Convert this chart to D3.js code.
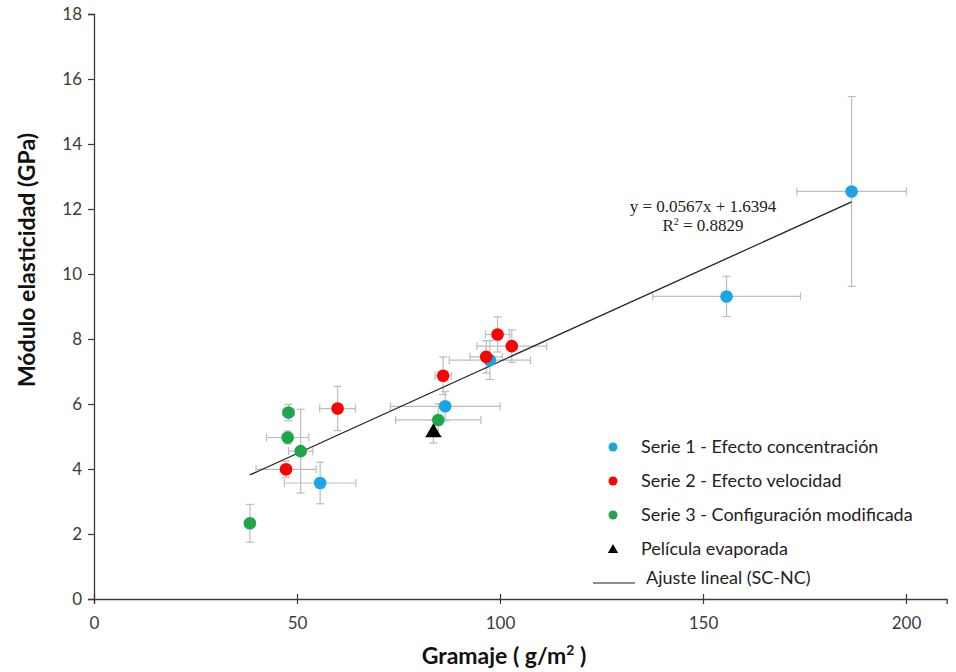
<!DOCTYPE html>
<html>
<head>
<meta charset="utf-8">
<script src="https://cdn.jsdelivr.net/npm/d3@7"></script>
<style>
  html, body { margin: 0; padding: 0; background: #fff; }
  svg { display: block; }
</style>
</head>
<body>
<svg id="chart" width="956" height="672"></svg>
<script>
// ---- Data ----
const serie1 = [ // Efecto concentración
  {x: 186.6, y: 12.54, ex: 13.5, ey: 2.92},
  {x: 155.8, y: 9.31,  ex: 18.2, ey: 0.62},
  {x: 86.5,  y: 5.93,  ex: 13.5, ey: 0.45},
  {x: 55.7,  y: 3.57,  ex: 8.8,  ey: 0.64},
  {x: 97.5,  y: 7.35,  ex: 10.0, ey: 0.60}
];
const serie2 = [ // Efecto velocidad
  {x: 99.4,  y: 8.14, ex: 3.0, ey: 0.54},
  {x: 102.9, y: 7.78, ex: 8.6, ey: 0.50},
  {x: 96.6,  y: 7.45, ex: 4.0, ey: 0.50},
  {x: 86.0,  y: 6.87, ex: 2.0, ey: 0.58},
  {x: 60.0,  y: 5.86, ex: 4.4, ey: 0.68},
  {x: 47.3,  y: 3.99, ex: 7.4, ey: 0.25}
];
const serie3 = [ // Configuración modificada
  {x: 47.9, y: 5.74, ex: 1.4,  ey: 0.25},
  {x: 47.7, y: 4.97, ex: 5.2,  ey: 0.20},
  {x: 50.9, y: 4.55, ex: 3.0,  ey: 1.29},
  {x: 38.4, y: 2.33, ex: 0,    ey: 0.58},
  {x: 84.8, y: 5.51, ex: 10.5, ey: 0.50}
];
const pelicula = [
  {x: 83.6, y: 5.15, ex: 0, ey: 0.35}
];
const fitSlope = 0.0567, fitIntercept = 1.6394, fitR2 = 0.8829;
const fitRange = [38.4, 186.6];
const xTicks = [0, 50, 100, 150, 200];
const yTicks = [0, 2, 4, 6, 8, 10, 12, 14, 16, 18];
const legendLabels = [
  "Serie 1 - Efecto concentración",
  "Serie 2 - Efecto velocidad",
  "Serie 3 - Configuración modificada",
  "Película evaporada",
  "Ajuste lineal (SC-NC)"
];
const colors = {s1: "#1aa6e6", s2: "#ff0000", s3: "#1fa64a", film: "#000000"};

// ---- Layout ----
const svg = d3.select("#chart");
const x = d3.scaleLinear().domain([0, 210]).range([94, 946.6]);
const y = d3.scaleLinear().domain([0, 18]).range([599, 14]);
const font = "Lato, 'Open Sans', sans-serif";
const axisColor = "#3a3a3a";

// Axes
const yAxis = svg.append("g").attr("transform", `translate(${x(0)},0)`)
  .call(d3.axisLeft(y).tickValues(yTicks).tickSize(6).tickPadding(6).tickFormat(d3.format("d")));
const xAxis = svg.append("g").attr("transform", `translate(0,${y(0)})`)
  .call(d3.axisBottom(x).tickValues(xTicks).tickSize(5).tickPadding(10).tickFormat(d3.format("d")));
[yAxis, xAxis].forEach(g => {
  g.select(".domain").attr("stroke", axisColor).attr("stroke-width", 1.3);
  g.selectAll(".tick line").attr("stroke", axisColor).attr("stroke-width", 1.2);
  g.selectAll(".tick text").attr("font-family", font).attr("font-size", 17).attr("fill", "#3c3c3c");
});
xAxis.selectAll(".tick line").attr("y1", -5);
xAxis.selectAll(".tick text").attr("dy", "0.9em");

// Axis titles
svg.append("text")
  .attr("transform", `translate(35,260) rotate(-90)`)
  .attr("text-anchor", "middle")
  .attr("font-family", font).attr("font-weight", "bold").attr("font-size", 23)
  .attr("fill", "#111").text("Módulo elasticidad (GPa)");
const xt = svg.append("text")
  .attr("x", 504).attr("y", 664)
  .attr("text-anchor", "middle")
  .attr("font-family", font).attr("font-weight", "bold").attr("font-size", 23)
  .attr("fill", "#111");
xt.append("tspan").text("Gramaje ( g/m");
xt.append("tspan").attr("font-size", 14).attr("dy", -9).text("2");
xt.append("tspan").attr("dy", 9).text(" )");

// Error bars
const allSeries = [serie1, serie3, pelicula, serie2];
const eb = svg.append("g").attr("stroke", "#bdbdbd").attr("stroke-width", 1.2).attr("fill", "none");
const cap = 4;
allSeries.flat().forEach(d => {
  if (d.ex > 0) {
    eb.append("line").attr("x1", x(d.x - d.ex)).attr("x2", x(d.x + d.ex)).attr("y1", y(d.y)).attr("y2", y(d.y));
    eb.append("line").attr("x1", x(d.x - d.ex)).attr("x2", x(d.x - d.ex)).attr("y1", y(d.y) - cap).attr("y2", y(d.y) + cap);
    eb.append("line").attr("x1", x(d.x + d.ex)).attr("x2", x(d.x + d.ex)).attr("y1", y(d.y) - cap).attr("y2", y(d.y) + cap);
  }
  if (d.ey > 0) {
    eb.append("line").attr("x1", x(d.x)).attr("x2", x(d.x)).attr("y1", y(d.y - d.ey)).attr("y2", y(d.y + d.ey));
    eb.append("line").attr("x1", x(d.x) - cap).attr("x2", x(d.x) + cap).attr("y1", y(d.y - d.ey)).attr("y2", y(d.y - d.ey));
    eb.append("line").attr("x1", x(d.x) - cap).attr("x2", x(d.x) + cap).attr("y1", y(d.y + d.ey)).attr("y2", y(d.y + d.ey));
  }
});

// Trend line
svg.append("line")
  .attr("x1", x(fitRange[0])).attr("y1", y(fitSlope * fitRange[0] + fitIntercept))
  .attr("x2", x(fitRange[1])).attr("y2", y(fitSlope * fitRange[1] + fitIntercept))
  .attr("stroke", "#222").attr("stroke-width", 1.3);

// Points
const r = 6.3;
[[serie1, colors.s1], [serie3, colors.s3], [serie2, colors.s2]].forEach(([data, c]) => {
  svg.append("g").selectAll("circle").data(data).join("circle")
    .attr("cx", d => x(d.x)).attr("cy", d => y(d.y)).attr("r", r).attr("fill", c);
});
svg.append("g").selectAll("path").data(pelicula).join("path")
  .attr("transform", d => `translate(${x(d.x)},${y(d.y) + 1})`)
  .attr("d", d3.symbol(d3.symbolTriangle, 115)())
  .attr("fill", colors.film);

// Equation
const eqFont = "'Liberation Serif', 'Times New Roman', serif";
svg.append("text").attr("x", 703).attr("y", 212).attr("text-anchor", "middle")
  .attr("font-family", eqFont).attr("font-size", 17).attr("fill", "#222")
  .text(`y = ${fitSlope}x + ${fitIntercept}`);
const r2 = svg.append("text").attr("x", 703).attr("y", 231).attr("text-anchor", "middle")
  .attr("font-family", eqFont).attr("font-size", 17).attr("fill", "#222");
r2.append("tspan").text("R");
r2.append("tspan").attr("font-size", 10).attr("dy", -6).text("2");
r2.append("tspan").attr("dy", 6).text(` = ${fitR2}`);

// Legend
const leg = svg.append("g");
const legY = [447, 481, 515, 549, 578];
const legColors = [colors.s1, colors.s2, colors.s3];
legendLabels.forEach((t, i) => {
  const yy = legY[i];
  if (i < 3) {
    leg.append("circle").attr("cx", 613).attr("cy", yy).attr("r", 4.5).attr("fill", legColors[i]);
  } else if (i === 3) {
    leg.append("path").attr("transform", `translate(613,${yy + 1})`)
      .attr("d", d3.symbol(d3.symbolTriangle, 45)()).attr("fill", "#000");
  } else {
    leg.append("line").attr("x1", 593).attr("x2", 635).attr("y1", yy + 5).attr("y2", yy + 5)
      .attr("stroke", "#222").attr("stroke-width", 1.2);
  }
  leg.append("text").attr("x", i === 4 ? 646 : 641).attr("y", yy).attr("dy", "0.35em")
    .attr("font-family", font).attr("font-size", 18).attr("fill", "#222").text(t);
});
</script>
</body>
</html>
